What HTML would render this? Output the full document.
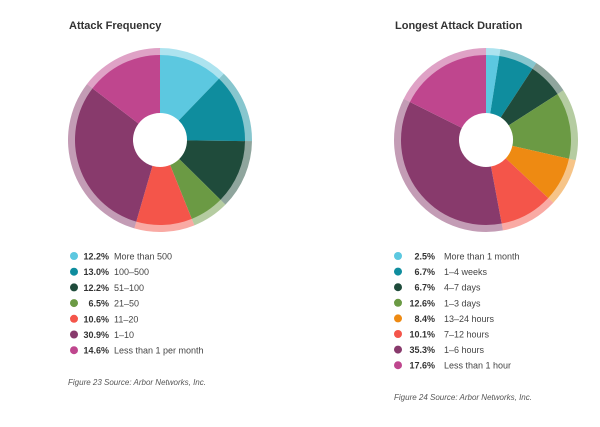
<!DOCTYPE html>
<html><head><meta charset="utf-8"><style>
html,body{margin:0;padding:0;background:#fff;}
svg{display:block;font-family:"Liberation Sans",sans-serif;}
</style></head><body>
<svg id="c" width="600" height="427" viewBox="0 0 600 427">
<text x="69" y="29" font-size="11" font-weight="bold" fill="#333">Attack Frequency</text>
<text x="395" y="29" font-size="11" font-weight="bold" fill="#333">Longest Attack Duration</text>
<text x="68" y="385" font-size="8" font-style="italic" fill="#555">Figure 23 Source: Arbor Networks, Inc.</text>
<text x="394" y="400" font-size="8" font-style="italic" fill="#555">Figure 24 Source: Arbor Networks, Inc.</text>
</svg>
<script>
const leftCategories=["More than 500","100–500","51–100","21–50","11–20","1–10","Less than 1 per month"];
const leftValues=[12.2,13.0,12.2,6.5,10.6,30.9,14.6];
const leftColors=["#5cc8e0","#0f8d9e","#1f4b3b","#6b9a44","#f4554a","#883a6c","#bf468e"];
const rightCategories=["More than 1 month","1–4 weeks","4–7 days","1–3 days","13–24 hours","7–12 hours","1–6 hours","Less than 1 hour"];
const rightValues=[2.5,6.7,6.7,12.6,8.4,10.1,35.3,17.6];
const rightColors=["#5cc8e0","#0f8d9e","#1f4b3b","#6b9a44","#ee8a12","#f4554a","#883a6c","#bf468e"];
const NS="http://www.w3.org/2000/svg";
const svg=document.getElementById('c');
function mk(t,a){const e=document.createElementNS(NS,t);for(const k in a)e.setAttribute(k,a[k]);svg.appendChild(e);return e;}
function arc(cx,cy,r0,r1,a0,a1){
 const p=(r,a)=>[cx+r*Math.sin(a),cy-r*Math.cos(a)];
 const lg=(a1-a0)>Math.PI?1:0;
 const [x1,y1]=p(r1,a0),[x2,y2]=p(r1,a1),[x3,y3]=p(r0,a1),[x4,y4]=p(r0,a0);
 return `M${x1},${y1}A${r1},${r1} 0 ${lg} 1 ${x2},${y2}L${x3},${y3}A${r0},${r0} 0 ${lg} 0 ${x4},${y4}Z`;
}
function donut(cx,cy,vals,cols,prefix){
 const tot=vals.reduce((a,b)=>a+b,0);let a=0;
 vals.forEach((v,i)=>{
  const a1=a+v/tot*2*Math.PI;
  const ring=mk('path',{d:arc(cx,cy,84,92,a,a1),fill:cols[i],'fill-opacity':0.5});
  
  
  const s=mk('path',{d:arc(cx,cy,27,85,a,a1),fill:cols[i]});
  
  
  a=a1;
 });
}
function legend(x,y0,step,pctRight,labelX,vals,cats,cols,prefix){
 vals.forEach((v,i)=>{
  const y=y0+i*step;
  const d=mk('circle',{cx:x,cy:y,r:4,fill:cols[i]});
  
  
  const p=mk('text',{x:pctRight,y:y+3.5,'font-size':9,'font-weight':'bold','text-anchor':'end',fill:'#333'});
  p.textContent=v.toFixed(1)+'%';
  
  
  const l=mk('text',{x:labelX,y:y+3.5,'font-size':9,fill:'#444'});
  l.textContent=cats[i];
  
  
 });
}
donut(160,140,leftValues,leftColors,'left');
donut(486,140,rightValues,rightColors,'right');
legend(74,256,15.7,109,114,leftValues,leftCategories,leftColors,'left');
legend(398,256,15.6,435,444,rightValues,rightCategories,rightColors,'right');
</script>
</body></html>
